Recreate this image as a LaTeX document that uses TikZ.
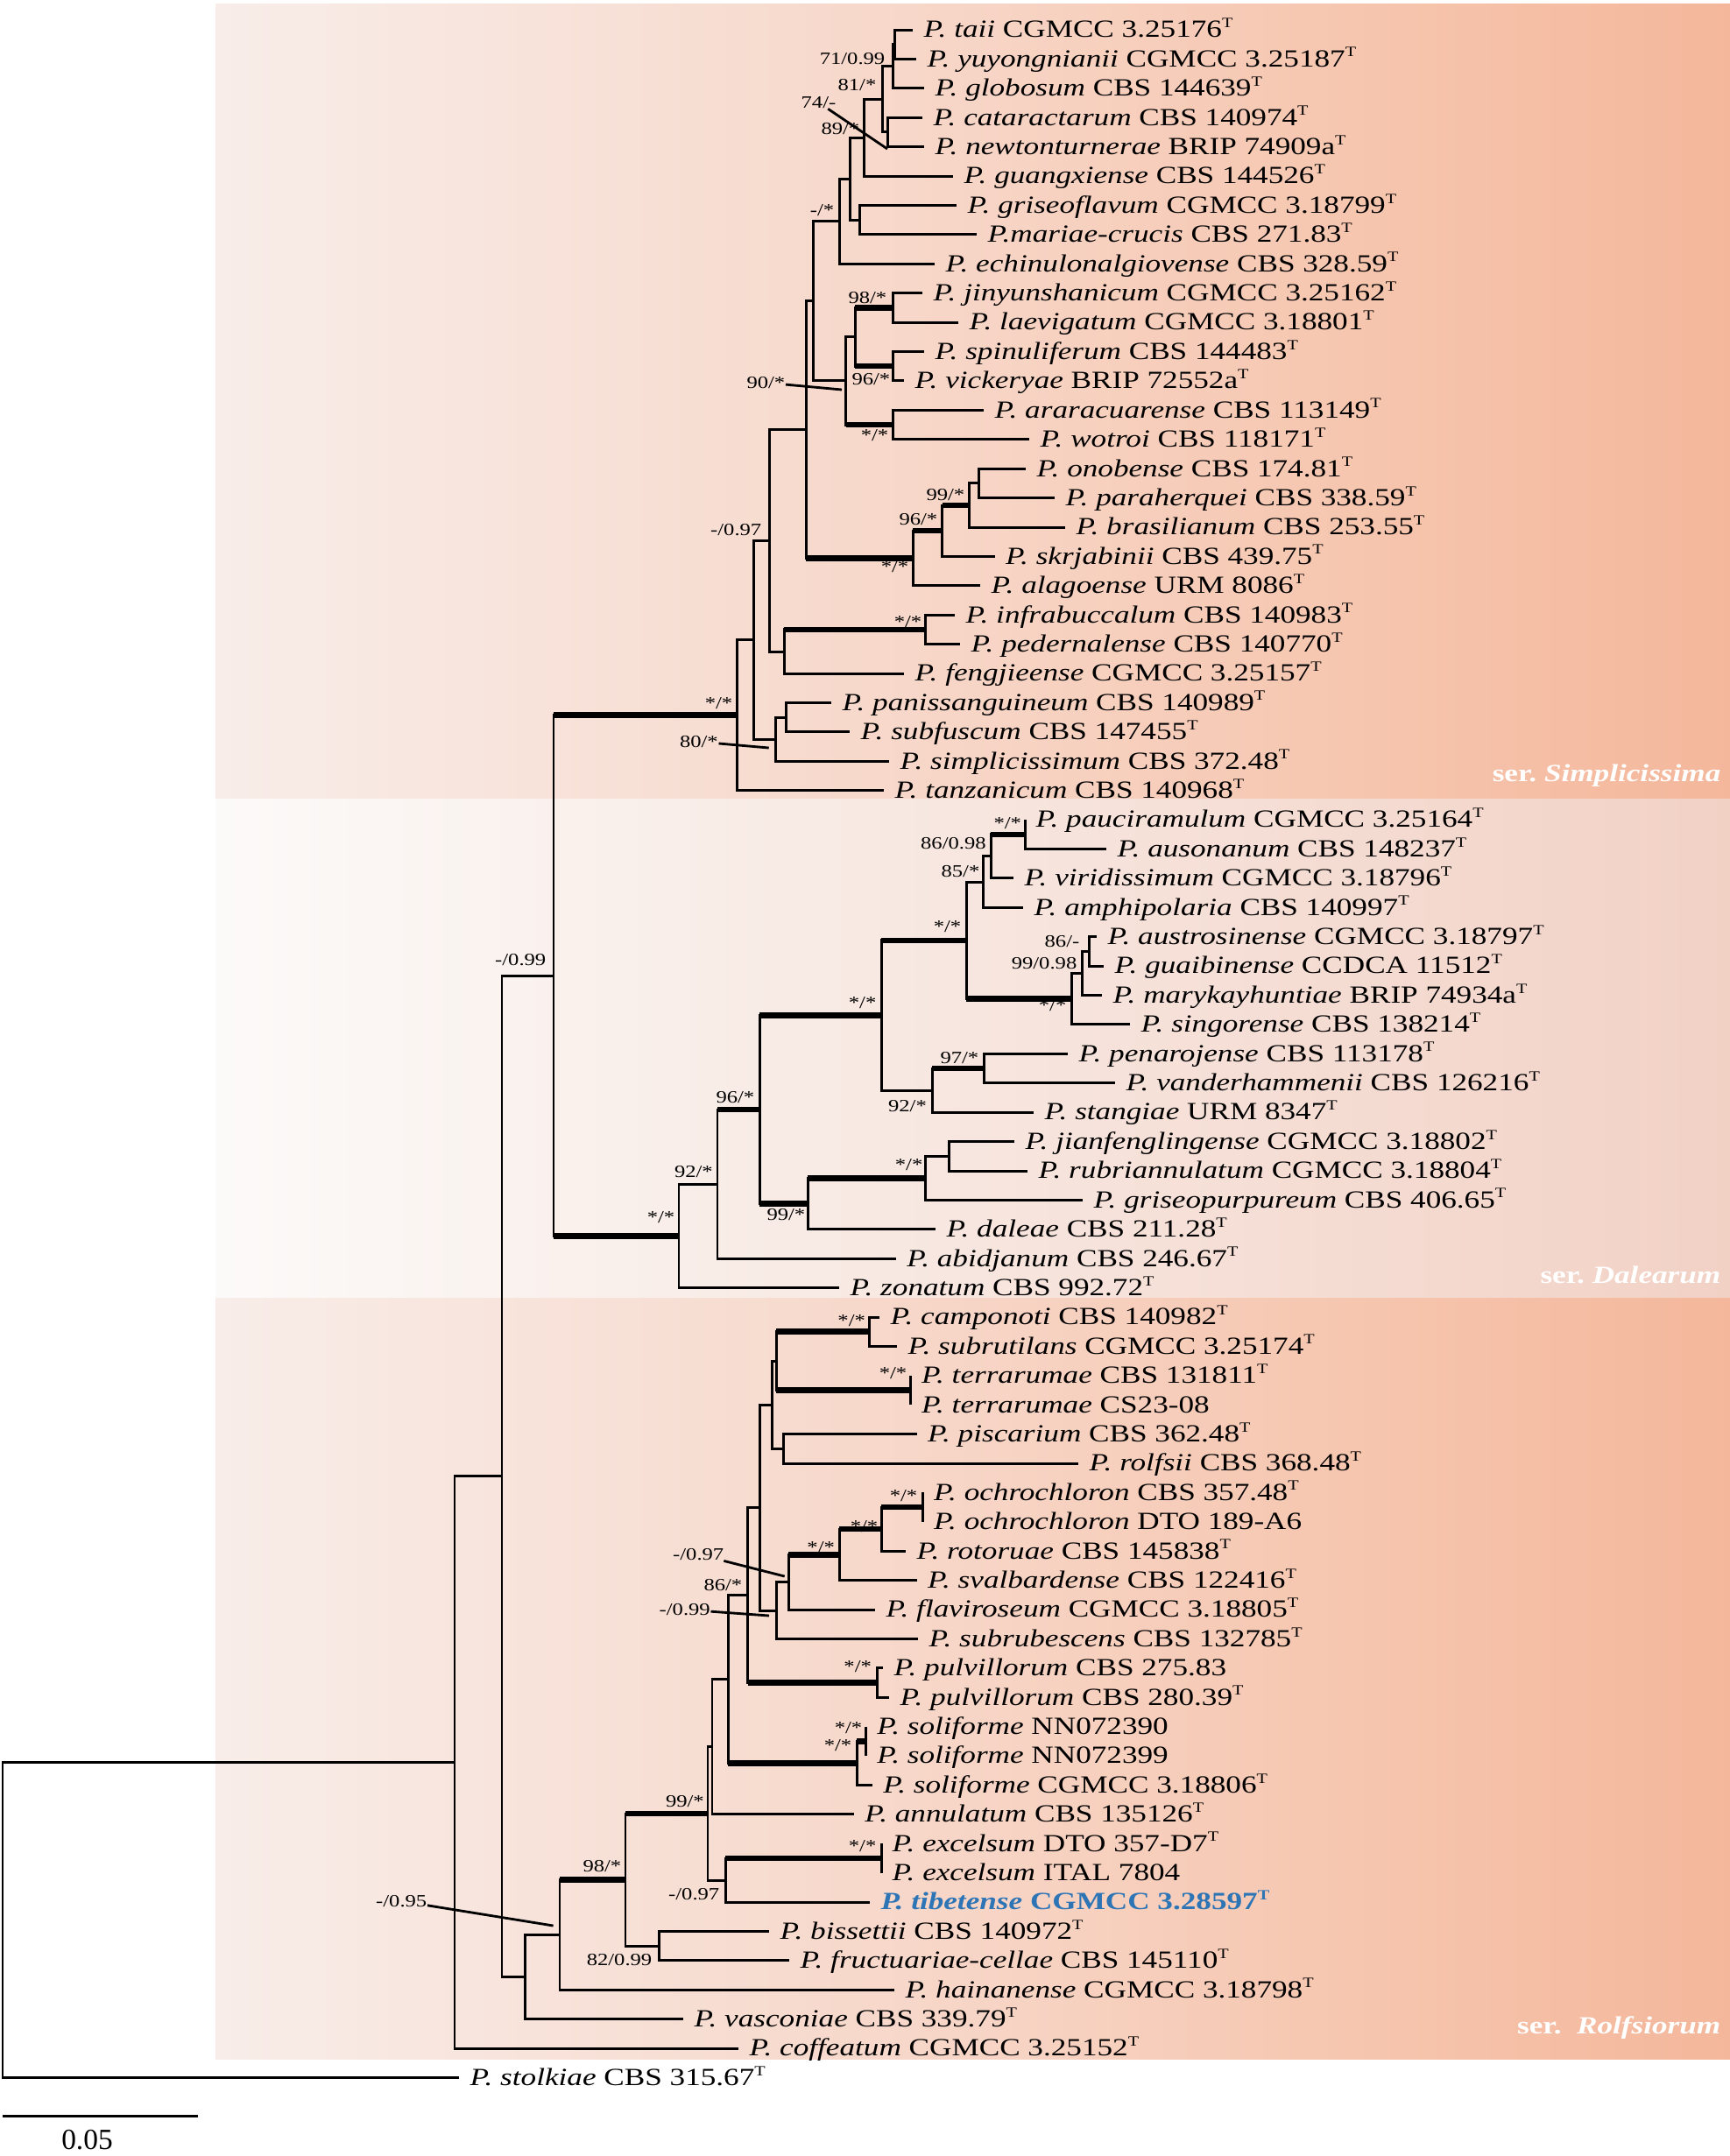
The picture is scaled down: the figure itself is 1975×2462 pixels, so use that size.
\documentclass[tikz,border=0pt]{standalone}
\usepackage{fontspec}
\setmainfont{Liberation Serif}[FakeStretch=1.25]
\newfontfamily\plainserif{Liberation Serif}
\definecolor{bandA}{RGB}{248,237,233}
\definecolor{bandB}{RGB}{247,213,198}
\definecolor{bandC}{RGB}{246,198,175}
\definecolor{bandD}{RGB}{244,183,155}
\definecolor{midA}{RGB}{252,250,249}
\definecolor{midB}{RGB}{247,230,223}
\definecolor{midC}{RGB}{242,209,197}
\definecolor{tibblue}{RGB}{46,117,182}
\pgfdeclarehorizontalshading{serband}{100bp}{color(0bp)=(bandA); color(25bp)=(bandA); color(50bp)=(bandB); color(62.5bp)=(bandC); color(75bp)=(bandD); color(100bp)=(bandD)}
\pgfdeclarehorizontalshading{midband}{100bp}{color(0bp)=(midA); color(25bp)=(midA); color(50bp)=(midB); color(75bp)=(midC); color(100bp)=(midC)}
\newcommand{\exT}{\raisebox{0.4em}{\fontsize{4.6}{5}\selectfont T}}

\begin{document}
\begin{tikzpicture}[x=0.01cm, y=-0.01cm,
    % Stil für die Taxa (Blätter des Baums)
        taxon/.style={anchor=west, inner xsep=0.12cm, inner ysep=0pt, text height=0.75em, text depth=0.25em, font=\fontsize{8}{9}\selectfont},
    % Stil für die Stützwerte an den Knoten
        supp/.style={anchor=east, inner sep=0pt, font=\fontsize{5.6}{6.5}\selectfont},
    % Stile für die Äste
        branch/.style={line width=0.85pt},
        strong/.style={line width=1.85pt},
        lead/.style={line width=0.8pt},
    % Stil für die Namen der Serien
        series/.style={anchor=base east, inner sep=0pt, text=white, font=\fontsize{8}{9}\selectfont\bfseries}]

        \useasboundingbox (0,0) rectangle (1975,2462);

        % Hintergrund der drei Serien
        \shade[shading=serband] (246,4) rectangle (1975,912);
        \shade[shading=midband] (246,912) rectangle (1975,1482);
        \shade[shading=serband] (246,1482) rectangle (1975,2351);

        \node[series] (ser1) at (1965,892) {ser.\ \textit{Simplicissima}};
        \node[series] (ser2) at (1965,1465) {ser.\ \textit{Dalearum}};
        \node[series] (ser3) at (1965,2322) {ser.~~\textit{Rolfsiorum}};

        % Blätter: ser. Simplicissima
        \node[taxon] (n1) at (1042,34.0) {\textit{P. taii} CGMCC 3.25176\exT};
        \node[taxon] (n2) at (1046,67.4) {\textit{P. yuyongnianii} CGMCC 3.25187\exT};
        \node[taxon] (n3) at (1055,100.8) {\textit{P. globosum} CBS 144639\exT};
        \node[taxon] (n4) at (1053,134.2) {\textit{P. cataractarum} CBS 140974\exT};
        \node[taxon] (n5) at (1055,167.6) {\textit{P. newtonturnerae} BRIP 74909a\exT};
        \node[taxon] (n6) at (1088,201.1) {\textit{P. guangxiense} CBS 144526\exT};
        \node[taxon] (n7) at (1092,234.5) {\textit{P. griseoflavum} CGMCC 3.18799\exT};
        \node[taxon] (n8) at (1115,267.9) {\textit{P.mariae-crucis} CBS 271.83\exT};
        \node[taxon] (n9) at (1067,301.3) {\textit{P. echinulonalgiovense} CBS 328.59\exT};
        \node[taxon] (n10) at (1053,334.7) {\textit{P. jinyunshanicum} CGMCC 3.25162\exT};
        \node[taxon] (n11) at (1094,368.1) {\textit{P. laevigatum} CGMCC 3.18801\exT};
        \node[taxon] (n12) at (1055,401.5) {\textit{P. spinuliferum} CBS 144483\exT};
        \node[taxon] (n13) at (1032,434.9) {\textit{P. vickeryae} BRIP 72552a\exT};
        \node[taxon] (n14) at (1123,468.3) {\textit{P. araracuarense} CBS 113149\exT};
        \node[taxon] (n15) at (1175,501.7) {\textit{P. wotroi} CBS 118171\exT};
        \node[taxon] (n16) at (1171,535.2) {\textit{P. onobense} CBS 174.81\exT};
        \node[taxon] (n17) at (1204,568.6) {\textit{P. paraherquei} CBS 338.59\exT};
        \node[taxon] (n18) at (1216,602.0) {\textit{P. brasilianum} CBS 253.55\exT};
        \node[taxon] (n19) at (1135.5,635.4) {\textit{P. skrjabinii} CBS 439.75\exT};
        \node[taxon] (n20) at (1119,668.8) {\textit{P. alagoense} URM 8086\exT};
        \node[taxon] (n21) at (1090,702.2) {\textit{P. infrabuccalum} CBS 140983\exT};
        \node[taxon] (n22) at (1096,735.6) {\textit{P. pedernalense} CBS 140770\exT};
        \node[taxon] (n23) at (1032,769.0) {\textit{P. fengjieense} CGMCC 3.25157\exT};
        \node[taxon] (n24) at (949,802.4) {\textit{P. panissanguineum} CBS 140989\exT};
        \node[taxon] (n25) at (970,835.8) {\textit{P. subfuscum} CBS 147455\exT};
        \node[taxon] (n26) at (1015,869.3) {\textit{P. simplicissimum} CBS 372.48\exT};
        \node[taxon] (n27) at (1009,902.7) {\textit{P. tanzanicum} CBS 140968\exT};

        % Blätter: ser. Dalearum
        \node[taxon] (n28) at (1170,936.1) {\textit{P. pauciramulum} CGMCC 3.25164\exT};
        \node[taxon] (n29) at (1263,969.5) {\textit{P. ausonanum} CBS 148237\exT};
        \node[taxon] (n30) at (1157,1002.9) {\textit{P. viridissimum} CGMCC 3.18796\exT};
        \node[taxon] (n31) at (1168,1036.3) {\textit{P. amphipolaria} CBS 140997\exT};
        \node[taxon] (n32) at (1252,1069.7) {\textit{P. austrosinense} CGMCC 3.18797\exT};
        \node[taxon] (n33) at (1260,1103.1) {\textit{P. guaibinense} CCDCA 11512\exT};
        \node[taxon] (n34) at (1258,1136.5) {\textit{P. marykayhuntiae} BRIP 74934a\exT};
        \node[taxon] (n35) at (1290,1169.9) {\textit{P. singorense} CBS 138214\exT};
        \node[taxon] (n36) at (1219,1203.3) {\textit{P. penarojense} CBS 113178\exT};
        \node[taxon] (n37) at (1273,1236.7) {\textit{P. vanderhammenii} CBS 126216\exT};
        \node[taxon] (n38) at (1180,1270.1) {\textit{P. stangiae} URM 8347\exT};
        \node[taxon] (n39) at (1158,1303.5) {\textit{P. jianfenglingense} CGMCC 3.18802\exT};
        \node[taxon] (n40) at (1173,1337.0) {\textit{P. rubriannulatum} CGMCC 3.18804\exT};
        \node[taxon] (n41) at (1236,1370.4) {\textit{P. griseopurpureum} CBS 406.65\exT};
        \node[taxon] (n42) at (1068,1403.8) {\textit{P. daleae} CBS 211.28\exT};
        \node[taxon] (n43) at (1022.6,1437.2) {\textit{P. abidjanum} CBS 246.67\exT};
        \node[taxon] (n44) at (958,1470.6) {\textit{P. zonatum} CBS 992.72\exT};

        % Blätter: ser. Rolfsiorum und Außengruppe
        \node[taxon] (n45) at (1004,1504.0) {\textit{P. camponoti} CBS 140982\exT};
        \node[taxon] (n46) at (1024,1537.4) {\textit{P. subrutilans} CGMCC 3.25174\exT};
        \node[taxon] (n47) at (1039.5,1570.8) {\textit{P. terrarumae} CBS 131811\exT};
        \node[taxon] (n48) at (1039.5,1604.2) {\textit{P. terrarumae} CS23-08};
        \node[taxon] (n49) at (1046.5,1637.6) {\textit{P. piscarium} CBS 362.48\exT};
        \node[taxon] (n50) at (1231,1671.0) {\textit{P. rolfsii} CBS 368.48\exT};
        \node[taxon] (n51) at (1053.5,1704.4) {\textit{P. ochrochloron} CBS 357.48\exT};
        \node[taxon] (n52) at (1053.5,1737.8) {\textit{P. ochrochloron} DTO 189-A6};
        \node[taxon] (n53) at (1034,1771.2) {\textit{P. rotoruae} CBS 145838\exT};
        \node[taxon] (n54) at (1046.5,1804.6) {\textit{P. svalbardense} CBS 122416\exT};
        \node[taxon] (n55) at (999,1838.1) {\textit{P. flaviroseum} CGMCC 3.18805\exT};
        \node[taxon] (n56) at (1048,1871.5) {\textit{P. subrubescens} CBS 132785\exT};
        \node[taxon] (n57) at (1008,1904.9) {\textit{P. pulvillorum} CBS 275.83};
        \node[taxon] (n58) at (1015,1938.3) {\textit{P. pulvillorum} CBS 280.39\exT};
        \node[taxon] (n59) at (988.6,1971.7) {\textit{P. soliforme} NN072390};
        \node[taxon] (n60) at (988.6,2005.1) {\textit{P. soliforme} NN072399};
        \node[taxon] (n61) at (995.6,2038.5) {\textit{P. soliforme} CGMCC 3.18806\exT};
        \node[taxon] (n62) at (974.6,2071.9) {\textit{P. annulatum} CBS 135126\exT};
        \node[taxon] (n63) at (1006,2105.3) {\textit{P. excelsum} DTO 357-D7\exT};
        \node[taxon] (n64) at (1006,2138.7) {\textit{P. excelsum} ITAL 7804};
        \node[taxon, text=tibblue] (n65) at (993,2172.1) {\bfseries\textit{P. tibetense} CGMCC 3.28597\exT};
        \node[taxon] (n66) at (878,2205.5) {\textit{P. bissettii} CBS 140972\exT};
        \node[taxon] (n67) at (901,2238.9) {\textit{P. fructuariae-cellae} CBS 145110\exT};
        \node[taxon] (n68) at (1021,2272.3) {\textit{P. hainanense} CGMCC 3.18798\exT};
        \node[taxon] (n69) at (780,2305.7) {\textit{P. vasconiae} CBS 339.79\exT};
        \node[taxon] (n70) at (843,2339.1) {\textit{P. coffeatum} CGMCC 3.25152\exT};
        \node[taxon] (n71) at (524,2372.5) {\textit{P. stolkiae} CBS 315.67\exT};

        % innere Knoten: ser. Simplicissima
        \coordinate (s17) at (1021.5,50.7);
        \coordinate (s16) at (1019.5,75.8);
        \coordinate (s15) at (1013,150.9);
        \coordinate (s14) at (1007,113.3);
        \coordinate (s12) at (986,157.2);
        \coordinate (s13) at (981,251.2);
        \coordinate (s11) at (970,204.2);
        \coordinate (s9) at (958,252.8);
        \coordinate (s20) at (1019.5,351.4);
        \coordinate (s18) at (1019.5,418.2);
        \coordinate (s19) at (976,384.8);
        \coordinate (s21) at (1019.5,485.0);
        \coordinate (s10) at (965.6,434.9);
        \coordinate (s8) at (928,343.8);
        \coordinate (s24) at (1117,551.9);
        \coordinate (s23) at (1106.5,577.0);
        \coordinate (s22) at (1075.5,606.2);
        \coordinate (s7) at (1042,637.5);
        \coordinate (s5) at (920,490.6);
        \coordinate (s25) at (1056,718.9);
        \coordinate (s6) at (895,744.0);
        \coordinate (s2) at (878,617.3);
        \coordinate (s4) at (897,819.1);
        \coordinate (s3) at (885,844.2);
        \coordinate (s1) at (860,730.7);
        \coordinate (s0) at (841,816.7);

        % innere Knoten: ser. Dalearum
        \coordinate (d13) at (1170,952.8);
        \coordinate (d12) at (1131,977.9);
        \coordinate (d10) at (1122,1007.1);
        \coordinate (d15) at (1243,1086.4);
        \coordinate (d14) at (1235,1111.5);
        \coordinate (d11) at (1223,1140.7);
        \coordinate (d7) at (1103,1073.9);
        \coordinate (d9) at (1123,1220.0);
        \coordinate (d8) at (1064,1245.1);
        \coordinate (d3) at (1006,1159.5);
        \coordinate (d6) at (1083,1320.3);
        \coordinate (d5) at (1056,1345.3);
        \coordinate (d4) at (922,1374.6);
        \coordinate (d2) at (867,1267.1);
        \coordinate (d1) at (819,1352.1);
        \coordinate (d0) at (775,1411.4);

        % innere Knoten: ser. Rolfsiorum und Rückgrat
        \coordinate (r26) at (992,1520.7);
        \coordinate (r27) at (1039.5,1587.5);
        \coordinate (r24) at (886,1554.1);
        \coordinate (r25) at (894,1654.3);
        \coordinate (r18) at (881,1604.2);
        \coordinate (r23) at (1053.5,1721.1);
        \coordinate (r22) at (1006,1746.2);
        \coordinate (r21) at (958,1775.4);
        \coordinate (r20) at (900,1806.8);
        \coordinate (r19) at (886,1839.1);
        \coordinate (r16) at (867.6,1721.7);
        \coordinate (r17) at (1001,1921.6);
        \coordinate (r13) at (853.6,1821.7);
        \coordinate (r15) at (988.6,1988.4);
        \coordinate (r14) at (978,2013.5);
        \coordinate (r12) at (831,1917.6);
        \coordinate (r9) at (813,1994.8);
        \coordinate (r11) at (1006,2122.0);
        \coordinate (r10) at (828,2147.1);
        \coordinate (r7) at (808,2071.0);
        \coordinate (r8) at (752.6,2222.2);
        \coordinate (r6) at (714,2146.6);
        \coordinate (r5) at (639,2209.5);
        \coordinate (r4) at (599.5,2257.6);
        \coordinate (k1) at (632,1114.1);
        \coordinate (k2) at (573,1685.9);
        \coordinate (k3) at (519,2012.5);
        \coordinate (k0) at (3,2192.5);

        % Äste zeichnen: je Knoten oberes Kind -- Knoten -- unteres Kind
        \draw[branch] (n1) -| (s17) |- (n2);
        \draw[branch] (s17) -| (s16) |- (n3);
        \draw[branch] (n4) -| (s15) |- (n5);
        \draw[branch] (s16) -| (s14) |- (s15);
        \draw[branch] (s14) -| (s12) |- (n6);
        \draw[branch] (n7) -| (s13) |- (n8);
        \draw[branch] (s12) -| (s11) |- (s13);
        \draw[branch] (s11) -| (s9) |- (n9);
        \draw[branch] (n10) -| (s20) |- (n11);
        \draw[branch] (n12) -| (s18) |- (n13);
        \draw[branch] (s20) -| (s19) |- (s18);
        \draw[branch] (n14) -| (s21) |- (n15);
        \draw[branch] (s19) -| (s10) |- (s21);
        \draw[branch] (s9) -| (s8) |- (s10);
        \draw[branch] (n16) -| (s24) |- (n17);
        \draw[branch] (s24) -| (s23) |- (n18);
        \draw[branch] (s23) -| (s22) |- (n19);
        \draw[branch] (s22) -| (s7) |- (n20);
        \draw[branch] (s8) -| (s5) |- (s7);
        \draw[branch] (n21) -| (s25) |- (n22);
        \draw[branch] (s25) -| (s6) |- (n23);
        \draw[branch] (s5) -| (s2) |- (s6);
        \draw[branch] (n24) -| (s4) |- (n25);
        \draw[branch] (s4) -| (s3) |- (n26);
        \draw[branch] (s2) -| (s1) |- (s3);
        \draw[branch] (s1) -| (s0) |- (n27);
        \draw[branch] (n28) -| (d13) |- (n29);
        \draw[branch] (d13) -| (d12) |- (n30);
        \draw[branch] (d12) -| (d10) |- (n31);
        \draw[branch] (n32) -| (d15) |- (n33);
        \draw[branch] (d15) -| (d14) |- (n34);
        \draw[branch] (d14) -| (d11) |- (n35);
        \draw[branch] (d10) -| (d7) |- (d11);
        \draw[branch] (n36) -| (d9) |- (n37);
        \draw[branch] (d9) -| (d8) |- (n38);
        \draw[branch] (d7) -| (d3) |- (d8);
        \draw[branch] (n39) -| (d6) |- (n40);
        \draw[branch] (d6) -| (d5) |- (n41);
        \draw[branch] (d5) -| (d4) |- (n42);
        \draw[branch] (d3) -| (d2) |- (d4);
        \draw[branch] (d2) -| (d1) |- (n43);
        \draw[branch] (d1) -| (d0) |- (n44);
        \draw[branch] (s0) -| (k1) |- (d0);
        \draw[branch] (n45) -| (r26) |- (n46);
        \draw[branch] (n47) -| (r27) |- (n48);
        \draw[branch] (r26) -| (r24) |- (r27);
        \draw[branch] (n49) -| (r25) |- (n50);
        \draw[branch] (r24) -| (r18) |- (r25);
        \draw[branch] (n51) -| (r23) |- (n52);
        \draw[branch] (r23) -| (r22) |- (n53);
        \draw[branch] (r22) -| (r21) |- (n54);
        \draw[branch] (r21) -| (r20) |- (n55);
        \draw[branch] (r20) -| (r19) |- (n56);
        \draw[branch] (r18) -| (r16) |- (r19);
        \draw[branch] (n57) -| (r17) |- (n58);
        \draw[branch] (r16) -| (r13) |- (r17);
        \draw[branch] (n59) -| (r15) |- (n60);
        \draw[branch] (r15) -| (r14) |- (n61);
        \draw[branch] (r13) -| (r12) |- (r14);
        \draw[branch] (r12) -| (r9) |- (n62);
        \draw[branch] (n63) -| (r11) |- (n64);
        \draw[branch] (r11) -| (r10) |- (n65);
        \draw[branch] (r9) -| (r7) |- (r10);
        \draw[branch] (n66) -| (r8) |- (n67);
        \draw[branch] (r7) -| (r6) |- (r8);
        \draw[branch] (r6) -| (r5) |- (n68);
        \draw[branch] (r5) -| (r4) |- (n69);
        \draw[branch] (k1) -| (k2) |- (r4);
        \draw[branch] (k2) -| (k3) |- (n70);
        \draw[branch] (k3) -| (k0) |- (n71);

        % gut gestützte Äste dick
        \draw[strong] (k1 |- s0) -- (s0);
        \draw[strong] (s5 |- s7) -- (s7);
        \draw[strong] (s7 |- s22) -- (s22);
        \draw[strong] (s22 |- s23) -- (s23);
        \draw[strong] (s6 |- s25) -- (s25);
        \draw[strong] (s19 |- s20) -- (s20);
        \draw[strong] (s19 |- s18) -- (s18);
        \draw[strong] (s10 |- s21) -- (s21);
        \draw[strong] (k1 |- d0) -- (d0);
        \draw[strong] (d1 |- d2) -- (d2);
        \draw[strong] (d2 |- d3) -- (d3);
        \draw[strong] (d2 |- d4) -- (d4);
        \draw[strong] (d4 |- d5) -- (d5);
        \draw[strong] (d3 |- d7) -- (d7);
        \draw[strong] (d8 |- d9) -- (d9);
        \draw[strong] (d7 |- d11) -- (d11);
        \draw[strong] (d12 |- d13) -- (d13);
        \draw[strong] (r5 |- r6) -- (r6);
        \draw[strong] (r6 |- r7) -- (r7);
        \draw[strong] (r10 |- r11) -- (r11);
        \draw[strong] (r12 |- r14) -- (r14);
        \draw[strong] (r14 |- r15) -- (r15);
        \draw[strong] (r13 |- r17) -- (r17);
        \draw[strong] (r20 |- r21) -- (r21);
        \draw[strong] (r21 |- r22) -- (r22);
        \draw[strong] (r22 |- r23) -- (r23);
        \draw[strong] (r24 |- r26) -- (r26);
        \draw[strong] (r24 |- r27) -- (r27);

        % Stützwerte (ML-Bootstrap / Posterior)
        \node[supp] (bs16) at (1011,67) {71/0.99};
        \node[supp] (bs14) at (1001,97) {81/*};
        \node[supp] (bs15) at (955,117) {74/-};
        \node[supp] (bs12) at (982,147) {89/*};
        \node[supp] (bs9) at (953,240) {-/*};
        \node[supp] (bs20) at (1013,340) {98/*};
        \node[supp] (bs18) at (1017,433) {96/*};
        \node[supp] (bs10) at (897,437) {90/*};
        \node[supp] (bs21) at (1015,497) {*/*};
        \node[supp] (bs23) at (1102,565) {99/*};
        \node[supp] (bs22) at (1071,593) {96/*};
        \node[supp] (bs7) at (1038,647) {*/*};
        \node[supp] (bs2) at (870,605) {-/0.97};
        \node[supp] (bs25) at (1053,710) {*/*};
        \node[supp] (bs0) at (837,803) {*/*};
        \node[supp] (bs3) at (820.5,847) {80/*};
        \node[supp] (bk1) at (624,1096) {-/0.99};
        \node[supp] (bd0) at (771,1390) {*/*};
        \node[supp] (bd1) at (814.5,1338) {92/*};
        \node[supp] (bd2) at (862,1253) {96/*};
        \node[supp] (bd4) at (920,1387) {99/*};
        \node[supp] (bd5) at (1054,1330) {*/*};
        \node[supp] (bd3) at (1001,1145) {*/*};
        \node[supp] (bd8) at (1058.5,1263) {92/*};
        \node[supp] (bd9) at (1118,1208) {97/*};
        \node[supp] (bd7) at (1098,1058) {*/*};
        \node[supp] (bd10) at (1119,995) {85/*};
        \node[supp] (bd12) at (1126.4,963) {86/0.98};
        \node[supp] (bd13) at (1166.7,940) {*/*};
        \node[supp] (bd11) at (1218,1148) {*/*};
        \node[supp] (bd14) at (1230,1100) {99/0.98};
        \node[supp] (bd15) at (1233,1075) {86/-};
        \node[supp] (br5) at (488,2171) {-/0.95};
        \node[supp] (br6) at (710,2131) {98/*};
        \node[supp] (br8) at (745,2238) {82/0.99};
        \node[supp] (br7) at (804.5,2057) {99/*};
        \node[supp] (br10) at (822,2163) {-/0.97};
        \node[supp] (br11) at (1001,2108) {*/*};
        \node[supp] (br14) at (973,1993) {*/*};
        \node[supp] (br15) at (985,1973) {*/*};
        \node[supp] (br17) at (995.6,1903) {*/*};
        \node[supp] (br13) at (848,1810) {86/*};
        \node[supp] (br19) at (811.5,1838) {-/0.99};
        \node[supp] (br20) at (827,1775) {-/0.97};
        \node[supp] (br21) at (953.6,1767) {*/*};
        \node[supp] (br22) at (1003,1743) {*/*};
        \node[supp] (br23) at (1048,1708) {*/*};
        \node[supp] (br26) at (988.6,1508) {*/*};
        \node[supp] (br27) at (1036,1568) {*/*};

        % Hinweislinien zu engen Knoten
        \coordinate (c15) at (1013,170);
        \coordinate (c10) at (961,445);
        \coordinate (c3) at (877.7,854);
        \coordinate (c5) at (631.6,2199);
        \coordinate (c19) at (878,1845);
        \coordinate (c20) at (895.7,1800);
        \draw[lead] (bs15) -- (c15);
        \draw[lead] (bs10) -- (c10);
        \draw[lead] (bs3) -- (c3);
        \draw[lead] (br5) -- (c5);
        \draw[lead] (br19) -- (c19);
        \draw[lead] (br20) -- (c20);

        % Maßstab
        \coordinate (sa) at (3,2416);
        \coordinate (sb) at (226,2416);
        \draw[branch] (sa) -- (sb);
        \node[font=\plainserif\fontsize{9.5}{11}\selectfont, inner sep=0pt] (sl) at (99.5,2444) {0.05};
    \end{tikzpicture}
\end{document}
